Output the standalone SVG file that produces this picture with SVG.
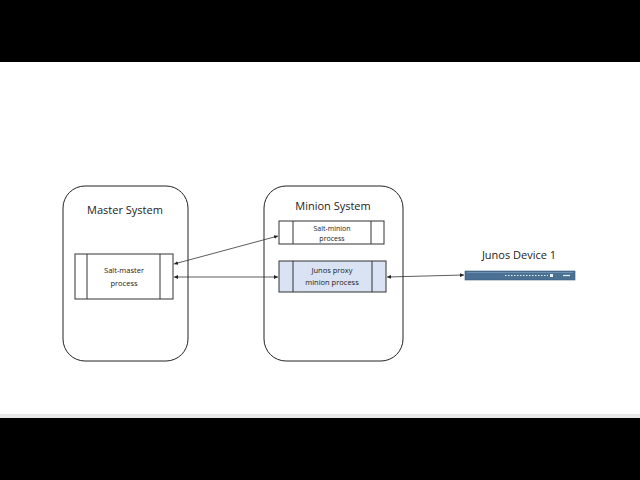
<svg xmlns="http://www.w3.org/2000/svg" width="640" height="480" viewBox="0 0 640 480">
<defs>
<marker id="a" viewBox="0 0 6 6" refX="6" refY="3" markerWidth="5" markerHeight="5" orient="auto-start-reverse"><path d="M0,0 L6,3 L0,6 z" fill="#222"/></marker>
<style>
.sys{fill:#fff;stroke:#222;stroke-width:1}
.p{fill:#fff;stroke:#333;stroke-width:1}
.t{font-family:"Open Sans","Liberation Sans",sans-serif;fill:#222;text-anchor:middle}
.c{stroke:#333;stroke-width:0.8;fill:none;marker-start:url(#a);marker-end:url(#a)}
</style>
</defs>
<rect width="640" height="480" fill="#fff"/>
<rect width="640" height="62" fill="#000"/>
<rect y="418" width="640" height="62" fill="#000"/>
<rect y="414" width="640" height="4" fill="#e8e8e8"/>
<g id="master">
<rect class="sys" x="63" y="186" width="125" height="175" rx="22"/>
<text class="t" x="125" y="214" font-size="11">Master System</text>
</g>
<g id="salt-master">
<rect class="p" x="75" y="254" width="98" height="45"/>
<line x1="87" y1="254" x2="87" y2="299" stroke="#333"/><line x1="160" y1="254" x2="160" y2="299" stroke="#333"/>
<text class="t" x="124" y="273" font-size="7.5">Salt-master</text>
<text class="t" x="124" y="286" font-size="7.5">process</text>
</g>
<g id="minion">
<rect class="sys" x="264" y="186" width="139" height="175" rx="22"/>
<text class="t" x="333" y="210" font-size="11">Minion System</text>
</g>
<g id="salt-minion">
<rect class="p" x="279" y="221" width="105" height="23"/>
<line x1="293" y1="221" x2="293" y2="244" stroke="#333"/><line x1="371" y1="221" x2="371" y2="244" stroke="#333"/>
<text class="t" x="332" y="231" font-size="7">Salt-minion</text>
<text class="t" x="332" y="241" font-size="7">process</text>
</g>
<g id="junos-proxy">
<rect class="p" x="279" y="261" width="107" height="31" fill="#dae3f3" style="fill:#dae3f3"/>
<line x1="293" y1="261" x2="293" y2="292" stroke="#333"/><line x1="372" y1="261" x2="372" y2="292" stroke="#333"/>
<text class="t" x="332" y="273" font-size="7.5">Junos proxy</text>
<text class="t" x="332" y="285" font-size="7.5">minion process</text>
</g>
<g id="device">
<text class="t" x="519" y="259" font-size="11">Junos Device 1</text>
<rect x="465" y="271" width="110" height="9" fill="#4a7194" stroke="#3a5a78" stroke-width="0.6"/>
<line x1="467" y1="272.5" x2="573" y2="272.5" stroke="#8fb0cc" stroke-width="0.5"/>
<line x1="505" y1="275.5" x2="548" y2="275.5" stroke="#e8f0f8" stroke-width="1.2" stroke-dasharray="1.5,1.5"/>
<rect x="550" y="274" width="3" height="3" fill="#e8f0f8"/>
<line x1="563" y1="275.5" x2="570" y2="275.5" stroke="#e8f0f8" stroke-width="1.2"/>
</g>
<g id="connectors">
<line class="c" x1="174" y1="264" x2="278" y2="236"/>
<line class="c" x1="174" y1="277" x2="278" y2="277"/>
<line class="c" x1="387" y1="277" x2="464" y2="275"/>
</g>
</svg>
